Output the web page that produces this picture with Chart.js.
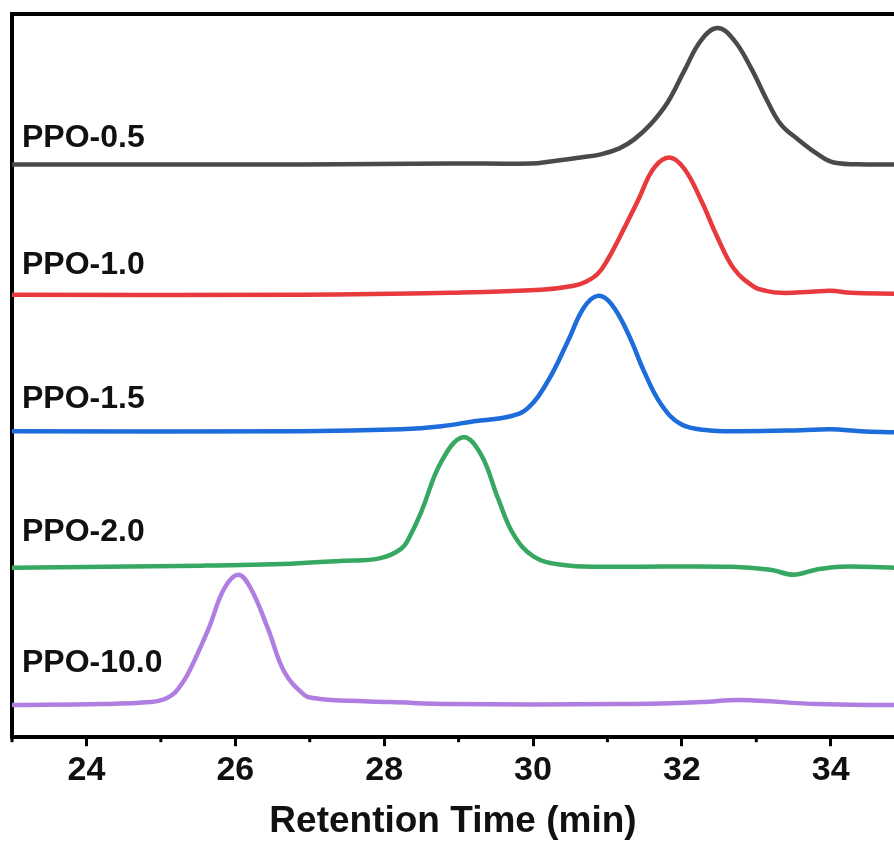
<!DOCTYPE html>
<html>
<head>
<meta charset="utf-8">
<script src="https://cdn.jsdelivr.net/npm/chart.js@4.4.0/dist/chart.umd.min.js"></script>
<style>
  html, body { margin: 0; padding: 0; background: #fff; }
  #wrap { width: 894px; height: 841px; }
</style>
</head>
<body>
<div id="wrap"><canvas id="gpc"></canvas></div>
<script>
// --- data (retention time in min, signal in a.u.) ---
const names = ['PPO-0.5', 'PPO-1.0', 'PPO-1.5', 'PPO-2.0', 'PPO-10.0'];
const colors = ['#4a4a4a', '#e8393d', '#1c6cdb', '#36a862', '#b07ee0'];
const offsets = [571, 441, 304, 169, 31];     // vertical stacking of the traces
const labelAt = [588, 462, 328, 196, 65];     // where each name sits (y units)

const t05 = [23.0, 26.89, 28.90, 29.97, 30.24, 30.64, 30.91, 31.16, 31.36, 31.58, 31.81, 32.03, 32.26, 32.48, 32.70, 32.93, 33.15, 33.33, 33.56, 33.83, 34.04, 34.50, 34.86];
const s05 = [0, 0, 1, 1, 3, 7, 10, 16, 25, 40, 62, 93, 124, 136, 124, 96, 63, 40, 25, 10, 2, 0, 0];

const t10 = [23.0, 26.89, 28.90, 30.11, 30.55, 30.71, 30.87, 31.01, 31.14, 31.41, 31.62, 31.83, 32.03, 32.26, 32.48, 32.70, 32.97, 33.13, 33.33, 33.74, 34.00, 34.27, 34.86];
const s10 = [0, 0, 2, 5, 9, 13, 21, 36, 54, 94, 126, 137, 126, 94, 57, 26, 8, 4, 2, 3, 4, 2, 1];

const t15 = [23.0, 26.89, 28.23, 28.77, 29.21, 29.70, 29.93, 30.20, 30.47, 30.68, 30.87, 31.05, 31.28, 31.49, 31.72, 31.99, 32.35, 32.79, 33.60, 34.00, 34.40, 34.86];
const s15 = [1, 1, 3, 6, 11, 16, 24, 51, 91, 124, 136, 128, 98, 61, 28, 8, 2, 1, 2, 3, 1, 0];

const t20 = [23.0, 25.54, 26.75, 27.46, 27.92, 28.23, 28.37, 28.50, 28.77, 29.06, 29.30, 29.53, 29.74, 30.01, 30.38, 30.91, 32.66, 33.19, 33.50, 33.80, 34.13, 34.86];
const s20 = [0, 2, 4, 7, 9, 19, 35, 56, 106, 130, 113, 69, 33, 11, 3, 1, 1, -2, -7, -2, 1, 0];

const t100 = [23.0, 24.20, 24.87, 25.05, 25.15, 25.23, 25.37, 25.64, 25.85, 26.04, 26.21, 26.44, 26.66, 26.93, 27.05, 27.29, 28.09, 28.90, 31.14, 32.26, 32.79, 33.83, 34.86];
const s100 = [1, 2, 4, 7, 11, 17, 33, 77, 117, 131, 117, 77, 34, 11, 8, 6, 4, 2, 2, 4, 6, 2, 1];

const times = [t05, t10, t15, t20, t100];
const signals = [s05, s10, s15, s20, s100];

const xMin = 23, xMax = 34.85;
const yMin = 0, yMax = 721;

const font = '"Liberation Sans", Arial, sans-serif';

// --- plugin: top frame, minor ticks and trace names ---
const decor = {
  id: 'decor',
  afterDraw(chart) {
    const { ctx, chartArea: a, scales: { x, y } } = chart;
    ctx.save();
    ctx.strokeStyle = '#000';
    ctx.lineWidth = 4;
    ctx.beginPath();
    ctx.moveTo(a.left - 2, a.top);
    ctx.lineTo(a.right, a.top);
    ctx.stroke();

    ctx.lineWidth = 3;
    for (let v = 23; v <= 35; v += 2) {
      const px = x.getPixelForValue(v);
      if (px > a.right) continue;
      ctx.beginPath();
      ctx.moveTo(px, a.bottom);
      ctx.lineTo(px, a.bottom + 5);
      ctx.stroke();
    }

    ctx.fillStyle = '#111';
    ctx.font = 'bold 32px ' + font;
    ctx.textBaseline = 'alphabetic';
    names.forEach((n, i) => {
      ctx.fillText(n, a.left + 10, y.getPixelForValue(labelAt[i]));
    });
    ctx.restore();
  }
};

const datasets = names.map((n, i) => ({
  label: n,
  data: times[i].map((t, k) => ({ x: t, y: signals[i][k] + offsets[i] })),
  borderColor: colors[i],
  borderWidth: 4.5,
  pointRadius: 0,
  fill: false,
  tension: 0.4
}));

new Chart(document.getElementById('gpc'), {
  type: 'line',
  data: { datasets },
  options: {
    responsive: true,
    maintainAspectRatio: false,
    animation: false,
    layout: { padding: { top: 14, left: 12, right: 0, bottom: 0 } },
    plugins: {
      legend: { display: false },
      tooltip: { enabled: false }
    },
    scales: {
      x: {
        type: 'linear',
        min: xMin,
        max: xMax,
        border: { display: true, color: '#000', width: 4 },
        grid: {
          display: true,
          drawOnChartArea: false,
          drawTicks: true,
          tickLength: 9,
          tickWidth: 3,
          tickColor: ctx => (ctx.tick && ctx.tick.value % 2 === 0) ? '#000' : 'rgba(0,0,0,0)'
        },
        ticks: {
          stepSize: 1,
          includeBounds: false,
          autoSkip: false,
          maxRotation: 0,
          padding: 4,
          color: '#111',
          font: { family: font, size: 34, weight: 'bold' },
          callback: v => (v % 2 === 0 ? String(v) : '')
        },
        title: {
          display: true,
          text: 'Retention Time (min)',
          color: '#111',
          padding: { top: 8, bottom: 1 },
          font: { family: font, size: 37, weight: 'bold', lineHeight: 1.0 }
        }
      },
      y: {
        type: 'linear',
        min: yMin,
        max: yMax,
        border: { display: true, color: '#000', width: 4 },
        grid: { display: false, drawTicks: false },
        ticks: { display: false }
      }
    }
  },
  plugins: [decor]
});
</script>
</body>
</html>
